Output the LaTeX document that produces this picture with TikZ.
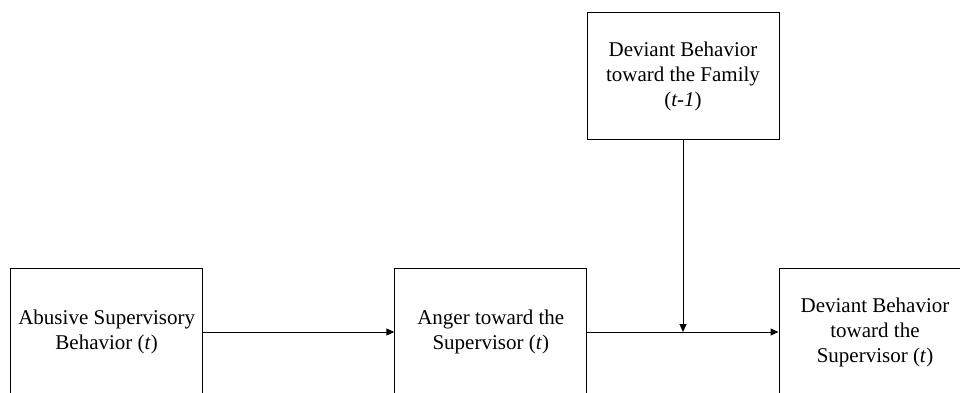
\documentclass[tikz,border=0pt]{standalone}
\usepackage{fontspec}
\setmainfont{Liberation Serif}
\usetikzlibrary{arrows.meta, positioning}

\begin{document}
\begin{tikzpicture}[x=0.5pt, y=-0.5pt,
    box/.style={draw, line width=0.5pt, minimum width=96pt, minimum height=63.5pt, align=center, font=\fontsize{10.5}{12.5}\selectfont},
    link/.style={line width=0.5pt, -{Triangle[length=4pt, width=3.5pt]}}]
% Frame
\useasboundingbox (0,0) rectangle (960,392);
\clip (0,0) rectangle (960,392);

% Boxes
\node[box] (abuse) at (106.7,332) {Abusive Supervisory\\Behavior (\textit{t})};
\node[box] (anger) at (490.8,332) {Anger toward the\\Supervisor (\textit{t})};
\node[box] (family) at (683,76.3) {Deviant Behavior\\toward the Family\\(\textit{t-1})};
\node[box] (deviant) at (875,332) {Deviant Behavior\\toward the\\Supervisor (\textit{t})};

% Paths
\draw[link] (abuse) -- (anger);
\draw[link] (anger) -- (deviant);
\draw[link] (family) -- (family.south |- anger.east);
\end{tikzpicture}
\end{document}
